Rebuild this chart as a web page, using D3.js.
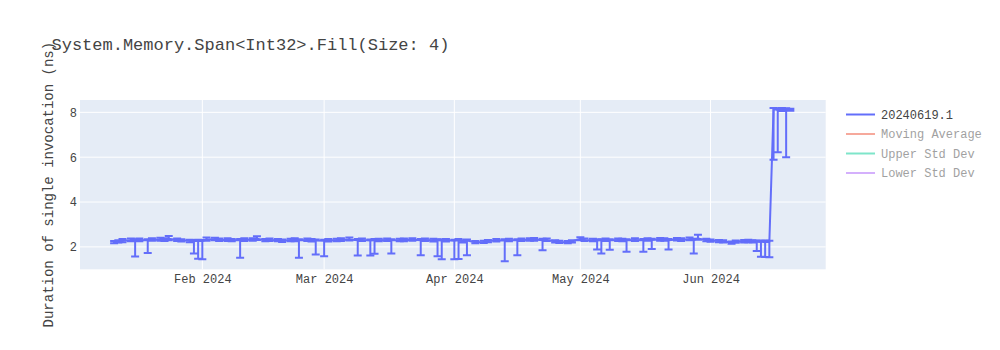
<!DOCTYPE html>
<html>
<head>
<meta charset="utf-8">
<script src="https://cdn.jsdelivr.net/npm/d3@7"></script>
<style>
	body{margin:0;background:#fff;}
	text{font-family:"Liberation Mono","Courier New",monospace;fill:#444;}
</style>
</head>
<body>
<div id="chart"></div>
<script>
const chartTitle = "System.Memory.Span<Int32>.Fill(Size: 4)";
const yTitle = "Duration of single invocation (ns)";
const seriesNames = ["20240619.1", "Moving Average", "Upper Std Dev", "Lower Std Dev"];
const yTicks = [2, 4, 6, 8];
const xTicks = ["2024-02-01", "2024-03-01", "2024-04-01", "2024-05-01", "2024-06-01"];

const dates = [
	"2024-01-11","2024-01-12","2024-01-13","2024-01-15","2024-01-16","2024-01-17","2024-01-19","2024-01-20","2024-01-22","2024-01-23","2024-01-24","2024-01-26","2024-01-27","2024-01-29","2024-01-30","2024-01-31",
	"2024-02-01","2024-02-02","2024-02-04","2024-02-05","2024-02-07","2024-02-08","2024-02-10","2024-02-11","2024-02-13","2024-02-14","2024-02-16","2024-02-17","2024-02-19","2024-02-20","2024-02-22","2024-02-23","2024-02-24","2024-02-26","2024-02-27","2024-02-28",
	"2024-03-01","2024-03-02","2024-03-04","2024-03-05","2024-03-07","2024-03-09","2024-03-10","2024-03-12","2024-03-13","2024-03-14","2024-03-16","2024-03-17","2024-03-19","2024-03-20","2024-03-22","2024-03-24","2024-03-25","2024-03-27","2024-03-28","2024-03-29","2024-03-30",
	"2024-04-01","2024-04-02","2024-04-03","2024-04-04","2024-04-06","2024-04-08","2024-04-09","2024-04-11","2024-04-13","2024-04-14","2024-04-16","2024-04-17","2024-04-19","2024-04-20","2024-04-22","2024-04-23","2024-04-25","2024-04-26","2024-04-28","2024-04-29",
	"2024-05-01","2024-05-02","2024-05-04","2024-05-05","2024-05-06","2024-05-07","2024-05-08","2024-05-10","2024-05-11","2024-05-12","2024-05-14","2024-05-16","2024-05-17","2024-05-18","2024-05-20","2024-05-21","2024-05-22","2024-05-24","2024-05-25","2024-05-27","2024-05-28","2024-05-29","2024-05-31",
	"2024-06-01","2024-06-03","2024-06-04","2024-06-06","2024-06-07","2024-06-09","2024-06-10","2024-06-11","2024-06-12","2024-06-13","2024-06-14","2024-06-15","2024-06-16","2024-06-17","2024-06-18","2024-06-19","2024-06-20"
];
const values = [
	2.21,2.24,2.27,2.30,2.28,2.31,2.29,2.32,2.33,2.31,2.36,2.31,2.29,2.27,2.26,2.27,
	2.26,2.33,2.34,2.31,2.32,2.30,2.29,2.31,2.33,2.36,2.30,2.31,2.30,2.28,2.30,2.31,2.29,2.31,2.30,2.28,
	2.27,2.29,2.30,2.32,2.33,2.29,2.31,2.28,2.29,2.30,2.31,2.29,2.30,2.31,2.32,2.30,2.31,2.30,2.29,2.28,2.29,
	2.27,2.29,2.24,2.28,2.21,2.22,2.26,2.29,2.28,2.30,2.29,2.31,2.32,2.33,2.30,2.31,2.25,2.22,2.21,2.24,
	2.36,2.31,2.30,2.28,2.29,2.31,2.29,2.31,2.30,2.29,2.31,2.30,2.32,2.31,2.33,2.32,2.30,2.33,2.32,2.34,2.30,2.38,2.30,
	2.28,2.26,2.24,2.19,2.23,2.25,2.26,2.24,2.23,2.22,2.23,2.22,8.15,8.10,8.14,8.12,8.12
];
// error bar extents above / below each point
const errPlus = [
	.05,.06,.08,.07,.06,.06,.05,.07,.08,.07,.12,.06,.05,.05,.05,.05,
	.05,.09,.07,.06,.06,.05,.06,.07,.06,.11,.05,.06,.05,.05,.06,.07,.05,.06,.05,.05,
	.05,.06,.06,.06,.09,.06,.06,.05,.06,.06,.06,.05,.06,.06,.07,.05,.06,.06,.05,.05,.06,
	.05,.06,.05,.05,.05,.05,.05,.06,.06,.06,.05,.06,.06,.07,.06,.06,.05,.05,.05,.05,
	.07,.06,.06,.05,.05,.06,.05,.06,.06,.05,.07,.05,.06,.05,.07,.06,.05,.07,.06,.08,.06,.16,.06,
	.05,.05,.05,.05,.05,.06,.06,.05,.05,.05,.05,.05,.04,.08,.05,.06,.04
];
const errMinus = [
	.05,.05,.06,.05,.71,.06,.56,.05,.06,.05,.06,.05,.05,.06,.56,.80,
	.81,.06,.05,.05,.06,.05,.78,.05,.06,.05,.05,.05,.05,.06,.05,.06,.77,.05,.06,.62,
	.69,.05,.05,.06,.05,.68,.05,.67,.60,.05,.05,.59,.05,.06,.05,.67,.05,.06,.71,.83,.05,
	.82,.83,.05,.65,.05,.05,.05,.05,.92,.05,.66,.05,.05,.06,.45,.05,.05,.05,.05,.05,
	.06,.05,.05,.40,.59,.05,.42,.05,.05,.51,.05,.52,.05,.41,.06,.05,.42,.05,.06,.05,.60,.06,.05,
	.05,.05,.05,.05,.05,.05,.05,.05,.41,.66,.68,.68,2.27,1.88,.08,2.12,.05
];

const seriesColors = ["#636efa", "#EF553B", "#00cc96", "#ab63fa"];
const width = 1000, height = 350;
const margin = {top: 100, right: 174.3, bottom: 80.7, left: 80};
const w = width - margin.left - margin.right;
const h = height - margin.top - margin.bottom;

let data = dates.map((d, i) => ({date: new Date(d), value: values[i], up: errPlus[i], down: errMinus[i]}));

let x = d3.scaleUtc()
	.domain([new Date("2024-01-02T21:00Z"), new Date("2024-06-28T10:00Z")])
	.range([0, w]);
let y = d3.scaleLinear()
	.domain([1.0, 8.55])
	.range([h, 0]);

let svg = d3.select("#chart").append("svg")
	.attr("width", width)
	.attr("height", height)
	.style("display", "block");

svg.append("defs").append("clipPath")
	.attr("id", "plotclip")
	.append("rect")
	.attr("width", w)
	.attr("height", h);

let g = svg.append("g")
	.attr("transform", "translate(" + margin.left + "," + margin.top + ")");

g.append("rect")
	.attr("width", w)
	.attr("height", h)
	.attr("fill", "#e5ecf6");

// grid
g.selectAll(".xgrid")
	.data(xTicks)
	.enter().append("line")
	.attr("class", "xgrid")
	.attr("x1", d => x(new Date(d)))
	.attr("x2", d => x(new Date(d)))
	.attr("y1", 0)
	.attr("y2", h)
	.attr("stroke", "#fff")
	.attr("stroke-width", 1);

g.selectAll(".ygrid")
	.data(yTicks)
	.enter().append("line")
	.attr("class", "ygrid")
	.attr("x1", 0)
	.attr("x2", w)
	.attr("y1", d => y(d))
	.attr("y2", d => y(d))
	.attr("stroke", "#fff")
	.attr("stroke-width", 1);

// axes (labels only)
let xAxis = d3.axisBottom(x)
	.tickValues(xTicks.map(d => new Date(d)))
	.tickFormat(d3.utcFormat("%b %Y"))
	.tickSize(0)
	.tickPadding(5);
let yAxis = d3.axisLeft(y)
	.tickValues(yTicks)
	.tickSize(0)
	.tickPadding(3);

g.append("g")
	.attr("class", "x-axis axis")
	.attr("transform", "translate(0," + h + ")")
	.call(xAxis);
g.append("g")
	.attr("class", "y-axis axis")
	.call(yAxis);
g.selectAll(".axis .domain").remove();
g.selectAll(".axis text")
	.attr("fill", "#444")
	.style("font-size", "12px")
	.style("font-family", "'Liberation Mono','Courier New',monospace");

// series
let plot = g.append("g").attr("clip-path", "url(#plotclip)");

let line = d3.line()
	.x(d => x(d.date))
	.y(d => y(d.value));

plot.append("path")
	.datum(data)
	.attr("d", line)
	.attr("fill", "none")
	.attr("stroke", seriesColors[0])
	.attr("stroke-width", 2)
	.attr("stroke-linejoin", "round");

let bars = plot.selectAll(".err")
	.data(data)
	.enter().append("path")
	.attr("class", "err")
	.attr("fill", "none")
	.attr("stroke", seriesColors[0])
	.attr("stroke-width", 2)
	.attr("d", d => {
		let xx = x(d.date), y0 = y(d.value + d.up), y1 = y(d.value - d.down);
		return "M" + (xx - 4) + "," + y0 + "h8M" + xx + "," + y0 + "V" + y1 + "M" + (xx - 4) + "," + y1 + "h8";
	});

// titles
svg.append("text")
	.attr("x", 51.5)
	.attr("y", 49.5)
	.style("font-size", "17px")
	.text(chartTitle);

svg.append("text")
	.attr("transform", "translate(48," + (margin.top + h / 2) + ") rotate(-90)")
	.attr("text-anchor", "middle")
	.attr("dy", "0.35em")
	.style("font-size", "14px")
	.text(yTitle);

// legend
let legend = svg.append("g")
	.attr("transform", "translate(846,114.5)");
let items = legend.selectAll(".item")
	.data(seriesNames)
	.enter().append("g")
	.attr("class", "item")
	.attr("transform", (d, i) => "translate(0," + i * 19.5 + ")")
	.attr("opacity", (d, i) => i === 0 ? 1 : 0.5);
items.append("line")
	.attr("x1", 0)
	.attr("x2", 29)
	.attr("stroke", (d, i) => seriesColors[i])
	.attr("stroke-width", 2);
items.append("text")
	.attr("x", 35)
	.attr("dy", "0.35em")
	.style("font-size", "12px")
	.text(d => d);
</script>
</body>
</html>
